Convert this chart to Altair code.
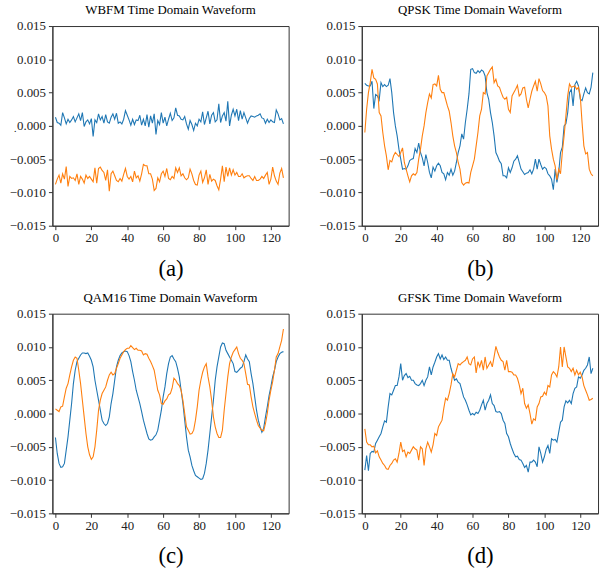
import altair as alt
import pandas as pd

# values in units of 1e-3
wbfm_i = [1.3, 0.5, 0.4, 0.1, 2.0, 1.2, 0.3, 1.0, 0.5, 0.9,
          1.4, 0.6, 1.2, 1.8, 0.8, 2.0, -0.1, 0.6, 0.9, 0.3,
          1.1, -1.6, 0.9, 0.5, 1.8, 0.9, 1.4, 0.4, 1.7, 0.6,
          0.4, 1.3, 1.8, 1.0, 1.9, 0.4, 0.6, 0.3, 1.0, 2.3,
          1.6, 0.9, 0.1, 1.0, 0.2, 0.9, 0.8, 1.6, 0.1, 1.0,
          0.0, 1.7, -0.2, 1.5, 0.4, 1.8, -1.3, 0.8, 0.2, 2.0,
          0.4, 1.3, 0.0, 1.0, 1.9, 0.8, 1.2, 2.7, 1.6, 1.5,
          1.0, 0.9, 1.4, 0.3, -0.5, 0.8, 0.2, -0.7, 0.4, 0.0,
          1.0, 0.6, 2.1, 0.2, 1.2, 2.2, 0.3, 1.6, 2.0, 0.6,
          0.9, 3.3, 0.5, 1.5, 2.0, 0.7, 3.7, 0.0, 1.6, 2.5,
          1.5, 2.5, 0.8, 2.3, 1.0, 2.0, 1.2, 0.4, 1.1, 1.5,
          1.4, 1.3, 1.5, 1.6, 1.8, 1.2, 1.1, 0.4, 1.0, 0.5,
          0.9, 0.6, 0.5, 2.4, 1.8, 0.9, 1.1, 0.3]
wbfm_q = [-8.8, -8.0, -7.4, -8.6, -7.2, -8.0, -6.1, -9.1, -7.6, -7.9,
          -7.8, -8.2, -7.2, -8.8, -7.6, -8.0, -8.6, -7.4, -7.9, -7.6,
          -8.0, -8.4, -6.3, -8.6, -6.4, -6.2, -6.7, -7.0, -8.2, -6.6,
          -9.8, -7.2, -6.8, -7.5, -8.2, -8.4, -7.9, -8.3, -7.3, -6.4,
          -7.6, -8.0, -7.6, -8.4, -6.8, -7.8, -7.5, -8.3, -7.2, -5.8,
          -6.0, -6.0, -7.2, -7.2, -8.0, -9.7, -9.4, -7.8, -8.4, -7.2,
          -6.8, -7.6, -6.4, -7.9, -8.1, -7.6, -7.9, -6.3, -7.0, -6.3,
          -7.5, -7.2, -7.8, -8.1, -7.8, -6.5, -7.2, -8.2, -8.8, -8.9,
          -7.4, -6.8, -8.5, -7.8, -6.6, -8.8, -7.3, -8.3, -8.0, -8.2,
          -9.0, -9.6, -8.0, -6.0, -8.4, -6.2, -7.6, -6.3, -7.4, -6.6,
          -7.4, -7.0, -7.6, -7.6, -7.2, -7.8, -7.6, -7.5, -7.5, -7.9,
          -8.2, -7.6, -8.2, -8.2, -8.0, -7.6, -7.9, -7.4, -7.0, -8.8,
          -8.0, -6.2, -7.5, -8.3, -8.8, -7.1, -6.4, -7.8]

qpsk_i = [6.4, 6.1, 6.0, 6.0, 6.7, 2.6, 4.7, 4.5, 3.9, 6.5,
          5.9, 6.2, 5.9, 6.1, 7.1, 5.0, 2.0, 0.0, -1.5, -3.5,
          -5.0, -6.5, -6.4, -6.5, -6.0, -5.2, -5.0, -4.9, -3.4, -4.0,
          -2.6, -4.0, -4.8, -6.0, -4.3, -5.5, -7.0, -7.8, -6.2, -6.8,
          -6.0, -5.6, -6.0, -7.0, -7.2, -8.1, -7.0, -7.4, -6.5, -7.4,
          -6.8, -5.5, -4.0, -3.0, -1.2, -2.0, 0.5, 2.5, 4.8, 8.5,
          8.6, 8.0, 7.9, 8.3, 8.0, 8.4, 8.2, 7.5, 5.0, 4.0,
          2.0, 0.5, -1.5, -4.0, -4.6, -5.3, -5.7, -7.5, -7.5, -7.8,
          -6.3, -7.0, -6.3, -5.3, -5.0, -4.5, -5.5, -6.5, -6.9, -7.3,
          -7.1, -7.0, -6.6, -7.2, -6.5, -5.0, -6.5, -5.0, -5.8, -6.5,
          -6.2, -6.4, -7.2, -7.5, -8.0, -9.6, -6.5, -8.5, -7.0, -4.0,
          -3.2, 0.0, 0.3, 2.0, 5.0, 5.5, 3.0, 6.2, 6.7, 6.0,
          4.0, 3.8, 4.8, 5.7, 5.0, 4.8, 5.8, 8.0]
qpsk_q = [-1.0, 2.5, 5.0, 6.5, 8.5, 7.2, 7.0, 6.3, 2.0, 1.5,
          -1.0, -3.0, -4.5, -6.6, -5.2, -5.4, -4.5, -4.0, -4.3, -4.6,
          -4.0, -3.3, -5.5, -6.5, -7.5, -8.4, -7.5, -7.2, -7.4, -7.0,
          -5.0, -3.5, -1.5, 0.0, 2.0, 3.5, 4.8, 4.2, 6.2, 6.3,
          6.0, 7.6, 5.5, 5.0, 5.0, 4.0, 3.0, 2.2, 0.5, -1.5,
          -3.0, -4.0, -5.5, -6.5, -8.5, -8.9, -8.6, -8.5, -8.6, -7.0,
          -6.0, -5.0, -3.0, -1.0, 1.5, 2.5, 5.0, 4.8, 7.5, 8.0,
          8.5, 8.85, 6.5, 7.0, 6.0, 5.8, 5.0, 4.3, 4.0, 4.3,
          2.5, 2.0, 4.5, 5.0, 5.5, 6.1, 4.5, 4.8, 5.7, 5.8,
          4.0, 2.7, 4.0, 5.2, 6.0, 6.7, 5.2, 7.1, 6.3, 5.3,
          5.0, 4.5, 3.0, -1.5, -3.5, -5.0, -6.0, -8.1, -6.5, -7.2,
          -4.0, -1.5, 1.5, 4.5, 6.3, 5.8, 5.9, 6.0, 5.5, 5.8,
          4.5, 0.5, -3.0, -4.2, -4.0, -6.5, -7.2, -7.5]

qam16_i = [-3.6, -6.0, -7.5, -8.1, -8.0, -7.5, -5.5, -3.5, -1.0, 1.5,
           4.5, 6.5, 7.8, 8.3, 8.8, 9.1, 9.1, 9.0, 9.1, 8.6,
           8.0, 7.0, 5.0, 3.5, 2.0, 0.5, -1.0, -1.5, -1.8, -1.5,
           -0.5, 1.5, 3.0, 5.0, 7.0, 8.0, 8.7, 9.1, 9.3, 9.4,
           9.3, 8.7, 7.8, 6.3, 5.0, 3.5, 2.5, 1.5, 0.3, -1.0,
           -2.0, -3.0, -3.8, -4.0, -3.9, -3.5, -3.2, -2.5, -1.0, 0.5,
           2.5, 4.0, 6.0, 7.5, 8.5, 8.7, 8.2, 7.8, 6.8, 5.5,
           3.5, 1.5, -1.0, -3.5, -5.5, -6.5, -7.8, -8.6, -9.3, -9.5,
           -9.7, -9.9, -9.8, -9.0, -7.5, -5.5, -3.0, -0.5, 2.0, 5.0,
           7.0, 8.5, 10.0, 10.6, 10.5, 9.5, 9.0, 8.5, 8.0, 7.5,
           6.3, 6.2, 6.5, 6.8, 7.0, 7.8, 8.8, 8.2, 7.8, 6.0,
           4.5, 2.5, 0.5, -1.0, -2.0, -2.8, -2.2, -0.5, 1.0, 2.7,
           4.0, 5.5, 6.5, 7.8, 8.5, 9.0, 9.2, 9.3]
qam16_q = [0.7, 0.5, 0.3, 1.0, 1.1, 2.5, 3.8, 4.5, 5.8, 7.0,
           8.0, 8.5, 8.3, 6.5, 4.5, 2.0, -0.5, -3.0, -5.0, -6.2,
           -6.9, -6.5, -5.0, -2.5, 0.5, 2.0, 3.0, 3.5, 4.0, 5.0,
           5.8, 6.2, 5.8, 6.0, 6.8, 7.5, 8.3, 8.8, 9.3, 9.6,
           9.8, 9.8, 10.2, 9.9, 9.6, 9.8, 9.5, 9.5, 9.4, 8.8,
           9.0, 8.9, 8.3, 7.8, 7.2, 6.5, 5.0, 3.5, 2.8, 1.5,
           1.4, 1.9, 2.2, 2.8, 3.0, 3.8, 5.3, 5.0, 4.5, 4.2,
           3.5, 2.0, 0.0, -2.0, -2.5, -3.1, -3.0, -2.5, -1.0, 1.0,
           3.5, 5.0, 6.2, 7.0, 7.5, 5.5, 4.0, 2.0, -0.5, -2.0,
           -3.0, -3.6, -3.6, -2.5, 0.5, 3.0, 5.5, 7.5, 8.5, 9.2,
           9.6, 10.0, 9.0, 8.3, 8.0, 7.5, 6.0, 4.4, 4.3, 2.5,
           1.0, 0.0, -1.0, -1.8, -2.2, -2.5, -2.6, -1.5, 0.0, 2.0,
           3.5, 4.8, 6.5, 8.5, 9.0, 10.0, 11.0, 12.7]

gfsk_i = [-8.5, -6.3, -8.6, -6.0, -5.7, -5.8, -4.5, -4.0, -3.5, -3.0,
          -2.0, -1.1, -1.3, 1.0, 3.0, 2.8, 3.5, 4.2, 4.2, 5.5,
          7.5, 5.0, 5.7, 6.0, 5.4, 5.6, 5.0, 5.0, 4.5, 4.3,
          4.2, 4.5, 5.0, 4.2, 5.0, 5.5, 7.0, 5.8, 7.0, 7.7,
          8.5, 9.0, 8.2, 8.8, 8.1, 8.5, 8.0, 8.0, 6.8, 5.8,
          5.0, 5.2, 4.7, 4.5, 3.5, 2.5, 2.0, 1.3, 0.5, -0.2,
          0.0, -0.2, 0.2, 0.0, 0.5, 1.3, 2.0, 0.5, 1.5, 2.0,
          2.8, 1.5, 1.2, 0.3, 0.2, 0.3, 0.0, -1.0, -1.5, -3.0,
          -3.5, -4.5, -5.3, -6.0, -6.5, -6.4, -6.9, -7.0, -7.5, -8.1,
          -7.8, -8.8, -7.3, -7.3, -7.0, -7.3, -8.0, -5.0, -6.0, -7.3,
          -6.5, -5.4, -4.8, -6.0, -3.8, -4.0, -3.9, -4.3, -2.8, -1.3,
          -1.0, 1.0, 1.9, 1.6, 2.0, 1.5, 3.0, 3.8, 4.0, 5.5,
          5.3, 5.8, 6.5, 6.8, 7.3, 8.5, 6.0, 6.8]
gfsk_q = [-2.3, -4.3, -4.7, -4.7, -5.0, -4.9, -5.9, -5.6, -6.5, -7.0,
          -7.5, -7.8, -8.3, -8.4, -7.8, -7.5, -7.0, -6.8, -7.3, -6.0,
          -4.3, -5.7, -5.5, -6.5, -5.8, -6.0, -5.5, -5.0, -5.3, -5.5,
          -7.0, -5.0, -5.3, -7.8, -5.3, -4.3, -5.0, -5.8, -4.7, -3.0,
          -3.3, -2.0, -1.5, -1.0, 0.8, 2.3, 2.0, 3.0, 4.3, 6.0,
          5.5, 6.5, 7.5, 7.3, 7.6, 7.8, 8.0, 8.5, 7.5, 7.3,
          8.2, 8.5, 6.1, 7.8, 7.0, 8.0, 6.5, 8.5, 6.8, 7.3,
          7.8, 7.0, 8.5, 10.1, 9.2, 8.5, 8.0, 7.8, 6.5, 8.0,
          6.3, 6.3, 6.2, 5.8, 5.8, 5.3, 4.3, 3.0, 3.8, 1.5,
          0.8, 1.3, 0.0, -1.6, -0.8, -1.0, 1.0, 1.5, 2.5, 2.6,
          3.2, 2.8, 4.2, 4.0, 5.8, 6.3, 6.0, 5.5, 7.0, 10.0,
          7.0, 10.0, 8.5, 7.0, 6.8, 6.3, 6.8, 5.8, 6.5, 5.8,
          6.2, 5.5, 4.2, 3.5, 2.8, 2.0, 2.1, 2.3]

titles = ["WBFM Time Domain Waveform", "QPSK Time Domain Waveform",
          "QAM16 Time Domain Waveform", "GFSK Time Domain Waveform"]
labels = ["(a)", "(b)", "(c)", "(d)"]
series = [(wbfm_i, wbfm_q), (qpsk_i, qpsk_q), (qam16_i, qam16_q), (gfsk_i, gfsk_q)]
x_ticks = [0, 20, 40, 60, 80, 100, 120]
y_ticks = [-0.015, -0.010, -0.005, 0.0, 0.005, 0.010, 0.015]

FONT = "Liberation Serif"
BLUE = "#1f77b4"
ORANGE = "#ff7f0e"


def panel(title, label, i_vals, q_vals):
    rows = []
    for k, v in enumerate(i_vals):
        rows.append({"t": k, "v": v / 1000.0, "s": "I"})
    for k, v in enumerate(q_vals):
        rows.append({"t": k, "v": v / 1000.0, "s": "Q"})
    df = pd.DataFrame(rows)
    return alt.Chart(df).mark_line(strokeWidth=1.1, clip=True).encode(
        x=alt.X("t:Q",
                scale=alt.Scale(domain=[-1.7, 129.9], nice=False, zero=False),
                axis=alt.Axis(values=x_ticks, title=label, titleFontSize=23,
                              titleFont=FONT, titleFontWeight="normal",
                              titlePadding=13, titleColor="#000",
                              labelFont=FONT, labelFontSize=13, labelColor="#222",
                              labelPadding=2, tickSize=4, grid=False,
                              tickColor="#333", domainColor="#333")),
        y=alt.Y("v:Q",
                scale=alt.Scale(domain=[-0.015, 0.015], nice=False, zero=False),
                axis=alt.Axis(values=y_ticks, format=".3f", title=".",
                              titleFont=FONT, titleFontSize=10, titleAngle=0,
                              titleX=-38, titleY=109, titleAlign="center",
                              titleColor="#000", titleFontWeight="normal",
                              labelFont=FONT, labelFontSize=13, labelColor="#222",
                              labelPadding=3, tickSize=4, grid=False,
                              tickColor="#333", domainColor="#333")),
        color=alt.Color("s:N", scale=alt.Scale(domain=["I", "Q"], range=[BLUE, ORANGE]),
                        legend=None),
        detail="s:N",
    ).properties(
        width=239, height=202,
        title=alt.TitleParams(title, font=FONT, fontSize=13, fontWeight="normal",
                              color="#000", offset=3),
    )


panels = [panel(titles[n], labels[n], series[n][0], series[n][1]) for n in range(4)]
top = alt.hconcat(panels[0], panels[1], spacing=28)
bottom = alt.hconcat(panels[2], panels[3], spacing=28)
chart = alt.vconcat(top, bottom, spacing=10).properties(
    padding={"left": 8, "top": 0, "right": 2, "bottom": 2}
).configure_view(
    stroke="#333", strokeWidth=1
)

chart.save("out.html", embed_options={"renderer": "svg", "actions": False})
